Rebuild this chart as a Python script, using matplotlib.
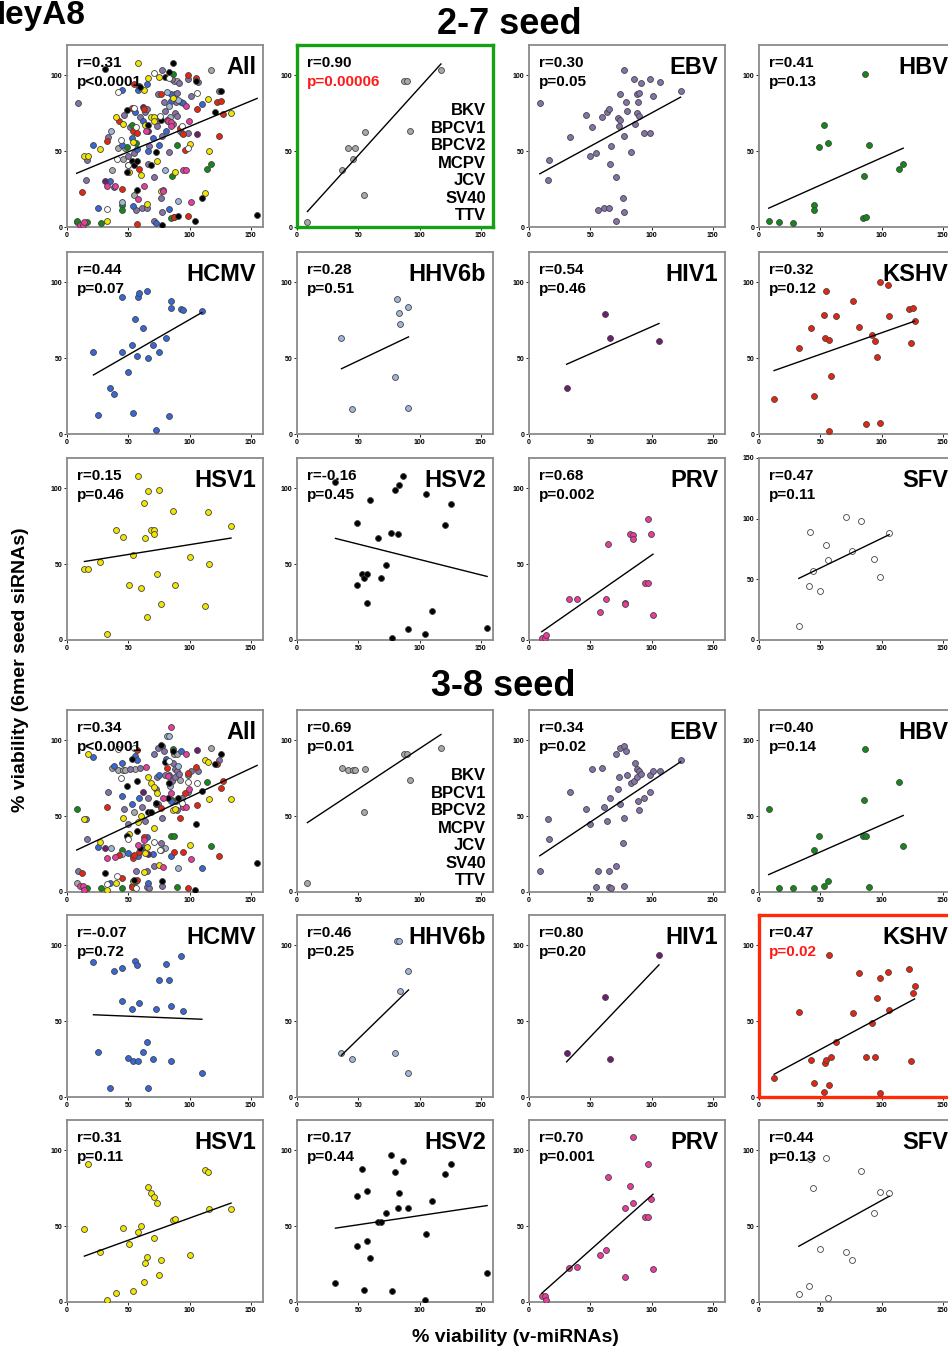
import numpy as np
import matplotlib.pyplot as plt

plt.rcParams['font.family'] = ['Liberation Sans', 'DejaVu Sans']
plt.rcParams['font.weight'] = 'bold'

# x = % viability with v-miRNAs (same for both seed panels), y = 6mer seed siRNAs
poly_x = [8.5, 36.5, 42, 46, 47, 55.5, 54.5, 87, 89.5, 92.5, 117.5]
poly_27 = [3.3, 37.8, 51.8, 45, 51.8, 62.5, 20.9, 96, 96, 63.6, 103.8]
poly_38 = [6.2, 81.6, 80.5, 80.3, 80.3, 81.4, 52.8, 91.2, 91.2, 73.9, 94.7]

ebv_x = [8.8, 16.4, 15.4, 33.7, 46.4, 51.3, 49.9, 55.1, 56.2, 59.5, 61.4, 63.9, 65, 65.3,
         67.2, 66.1, 70.8, 71, 72.7, 73.5, 74.3, 73.9, 77.3, 77.6, 76.8, 77.3, 79, 79.8,
         83.1, 86.4, 86.1, 88.3, 90.2, 89.1, 88, 89.9, 91.6, 93.8, 98.4, 98.4, 100.9, 106.7, 123.7]
ebv_27 = [82, 44.3, 31.1, 59.6, 74, 65.8, 46.9, 48.5, 11.3, 72.7, 12.7, 75.8, 77.6, 12.7,
          53.3, 41.6, 32.9, 4.2, 72, 66.4, 70.4, 87.8, 103.3, 59.9, 18.9, 10.2, 82.5, 76.7,
          49.3, 68, 97.6, 87.8, 88.5, 82.5, 75.1, 73.1, 95.1, 61.8, 61.8, 97.8, 86.3, 95.8, 89.6]
ebv_38 = [14, 35, 48, 66, 55, 81, 45, 3, 14, 82, 56, 47, 3, 14,
          2.5, 62, 17, 91, 68, 76, 58, 95, 96, 49, 32, 4, 93, 77,
          72, 85, 73, 81, 80, 60, 76, 54, 78, 62, 77, 66, 80, 80, 87]

hbv_x = [7.9, 16.6, 27.5, 45.3, 45.3, 48.9, 53, 56.5, 86.3, 85.8, 84.9, 87.1, 90.2, 114.4, 117.7]
hbv_27 = [3.7, 3.3, 2.6, 14.5, 11.2, 52.9, 67.2, 55.3, 100.7, 33.5, 5.9, 6.6, 54.2, 38.5, 41.8]
hbv_38 = [55, 2.7, 2.7, 2.7, 28, 37, 4, 7, 94.5, 60.5, 36.6, 36.6, 3, 72.5, 30.6]

hcmv_x = [21.6, 25.4, 35.2, 38, 44.8, 44.8, 49.4, 52.7, 54.1, 55.2, 57.1, 57.6, 58.7, 61.7,
          65.3, 65.8, 69.9, 72.4, 74.8, 80.8, 83.6, 84.9, 84.9, 93.4, 95.1, 110.1]
hcmv_27 = [54.1, 12.2, 30.4, 26.2, 90.4, 54.1, 41.2, 59, 14, 75.8, 51.5, 90.2, 93.1, 69.8,
           94.4, 49.9, 59, 2.5, 54.1, 63, 11.8, 87.6, 83.4, 82.1, 81.6, 81.2]
hcmv_38 = [89, 30, 6, 83, 63, 85, 26, 58, 24, 90, 87, 24, 62, 30,
           36, 6, 25, 58, 77, 88, 77, 60, 24, 93, 57, 16]

hhv6b_x = [36.3, 45.1, 80.1, 81.4, 83.3, 84.4, 91, 91]
hhv6b_27 = [63.4, 16.6, 37.9, 89.1, 79.6, 72.7, 83.8, 17.1]
hhv6b_38 = [29, 25, 29, 103, 103, 70, 83, 16]

hiv1_x = [30.7, 62.3, 65.8, 106.1]
hiv1_27 = [30.4, 79.4, 63.6, 61.2]
hiv1_38 = [28.7, 66, 25.3, 93.3]

kshv_x = [12.3, 33, 42.6, 44.5, 53, 53.8, 54.9, 57.1, 57.4, 59, 62.5, 76.7, 81.7, 87.4,
          92.6, 95, 96.4, 98.6, 98.9, 105.2, 106.3, 122.1, 125.9, 123.9, 127]
kshv_27 = [23.3, 57, 69.8, 24.9, 78.5, 63.2, 94.4, 61.8, 2.2, 38.4, 78, 87.6, 70.5, 6.4,
           65.4, 61.4, 50.8, 100.2, 7.1, 98, 77.8, 82.7, 83.1, 60.1, 74.3]
kshv_38 = [12.7, 55.8, 24.7, 9.3, 3.1, 22.5, 24.7, 93.8, 8, 26.7, 36.5, 55.6, 82, 26.2,
           48.5, 26.2, 65.3, 78.7, 2.7, 82.5, 57.6, 84.7, 68.7, 24, 73.1]

hsv1_x = [14.2, 17.5, 26.7, 32.5, 39.9, 45.9, 50.5, 53.8, 58.2, 60.6, 63.1, 63.6, 65.3, 66.4,
          68.3, 70.8, 71, 73.8, 74.8, 76.5, 86.6, 88.2, 100.5, 112.5, 115, 116.1, 133.9]
hsv1_27 = [46.9, 46.9, 51.6, 4, 72.7, 67.8, 36.5, 56, 108.3, 34.2, 90.2, 67.3, 15.3, 98.2,
           72.7, 72.7, 70.1, 43.8, 98.7, 24, 85.1, 36.5, 54.9, 22.7, 84.2, 50, 75.1]
hsv1_38 = [48, 91, 33, 1.3, 6.2, 49, 38, 7.3, 46, 50, 13.3, 26, 30, 76,
           72, 69, 42, 65, 18, 28, 54, 55, 31, 87, 86, 61, 61]

hsv2_x = [31.4, 48.6, 49, 53.3, 54.9, 57.1, 57.1, 59.6, 65.8, 68.9, 73, 77.1, 77.6, 79.8,
          83.1, 82.8, 86.9, 91, 104.6, 105.2, 109.8, 121, 125.4, 155.2]
hsv2_27 = [104, 36.3, 77.1, 43.8, 40.9, 43.8, 24.7, 92.5, 67.1, 41.1, 49.3, 70.5, 1.1, 98.7,
           102.2, 70.2, 108, 7.1, 4.2, 96.5, 19.3, 75.6, 90, 7.8]
hsv2_38 = [12.2, 37, 70, 88, 8.2, 40, 73, 28.7, 52.7, 52.7, 59, 97, 7.1, 86,
           72, 62, 93, 62, 1.6, 44.7, 66.7, 84.7, 91, 19.3]

prv_x = [10.4, 12.9, 13.5, 32.4, 39, 57.9, 62.5, 64.5, 78.2, 78.4, 82.3, 85, 84.5, 94.3,
         96.8, 97.3, 99.3, 101.2]
prv_27 = [1.1, 1.1, 3.3, 26.9, 26.9, 18.7, 27.3, 63.1, 24.5, 23.6, 69.8, 69, 66.5, 37.6,
          37.6, 79.6, 70, 16.5]
prv_38 = [4, 4, 1.3, 22.7, 23.3, 30.7, 34, 82.7, 16.7, 62, 76.7, 109, 65.3, 56,
          56, 90.7, 68, 22]

sfv_x = [32.5, 41, 41.3, 43.8, 49.7, 54.3, 56.5, 71.3, 75.7, 83.4, 93.7, 98.9, 106.3]
sfv_27 = [11.9, 44.7, 89, 57.2, 40.6, 78.7, 65.8, 101.4, 73.5, 98.1, 66.9, 51.9, 88.4]
sfv_38 = [5.3, 10.7, 94, 75, 35, 94.7, 2.7, 32.7, 28, 86.7, 58.7, 72.7, 72]

poly_names = ['BKV', 'BPCV1', 'BPCV2', 'MCPV', 'JCV', 'SV40', 'TTV']

# name, x, y 2-7, y 3-8, fill colour
viruses = [
    ('poly', poly_x, poly_27, poly_38, '#a8a8a8'),
    ('EBV', ebv_x, ebv_27, ebv_38, '#8572a8'),
    ('HBV', hbv_x, hbv_27, hbv_38, '#14891a'),
    ('HCMV', hcmv_x, hcmv_27, hcmv_38, '#3768d6'),
    ('HHV6b', hhv6b_x, hhv6b_27, hhv6b_38, '#9fb6da'),
    ('HIV1', hiv1_x, hiv1_27, hiv1_38, '#6b1f6e'),
    ('KSHV', kshv_x, kshv_27, kshv_38, '#e82510'),
    ('HSV1', hsv1_x, hsv1_27, hsv1_38, '#f2e600'),
    ('HSV2', hsv2_x, hsv2_27, hsv2_38, '#000000'),
    ('PRV', prv_x, prv_27, prv_38, '#ea3c9c'),
    ('SFV', sfv_x, sfv_27, sfv_38, '#ffffff'),
]

grid = [['All', 'poly', 'EBV', 'HBV'],
        ['HCMV', 'HHV6b', 'HIV1', 'KSHV'],
        ['HSV1', 'HSV2', 'PRV', 'SFV']]

stats_27 = {'All': ('0.31', '<0.0001'), 'poly': ('0.90', '=0.00006'), 'EBV': ('0.30', '=0.05'),
            'HBV': ('0.41', '=0.13'), 'HCMV': ('0.44', '=0.07'), 'HHV6b': ('0.28', '=0.51'),
            'HIV1': ('0.54', '=0.46'), 'KSHV': ('0.32', '=0.12'), 'HSV1': ('0.15', '=0.46'),
            'HSV2': ('-0.16', '=0.45'), 'PRV': ('0.68', '=0.002'), 'SFV': ('0.47', '=0.11')}
stats_38 = {'All': ('0.34', '<0.0001'), 'poly': ('0.69', '=0.01'), 'EBV': ('0.34', '=0.02'),
            'HBV': ('0.40', '=0.14'), 'HCMV': ('-0.07', '=0.72'), 'HHV6b': ('0.46', '=0.25'),
            'HIV1': ('0.80', '=0.20'), 'KSHV': ('0.47', '=0.02'), 'HSV1': ('0.31', '=0.11'),
            'HSV2': ('0.17', '=0.44'), 'PRV': ('0.70', '=0.001'), 'SFV': ('0.44', '=0.13')}

W, H = 948, 1348
fig = plt.figure(figsize=(W / 100, H / 100), dpi=100)

col_left = [67, 297, 529, 759]
row_top = [45, 252, 458, 710, 915, 1120]
aw, ah = 196, 182

lookup = {v[0]: v for v in viruses}


def draw_panel(ax, name, seed, stats, boxed=None, red_p=False):
    if name == 'All':
        for v in viruses:
            ys = v[2] if seed == 0 else v[3]
            ax.scatter(v[1], ys, s=18, c=v[4], edgecolors='#444444', linewidths=0.6, zorder=3)
        xs = np.concatenate([v[1] for v in viruses])
        ys = np.concatenate([v[2] if seed == 0 else v[3] for v in viruses])
    else:
        v = lookup[name]
        xs = np.array(v[1], dtype=float)
        ys = np.array(v[2] if seed == 0 else v[3], dtype=float)
        ax.scatter(xs, ys, s=18, c=v[4], edgecolors='#444444', linewidths=0.6, zorder=3)
    k, b = np.polyfit(xs, ys, 1)
    xl = np.array([xs.min(), xs.max()])
    ax.plot(xl, k * xl + b, color='black', lw=1.0, zorder=4)

    ymax = 150 if (name == 'SFV' and seed == 0) else 120
    ax.set_xlim(0, 160)
    ax.set_ylim(0, ymax)
    ax.set_xticks([0, 50, 100, 150])
    ax.set_yticks([0, 50, 100, 150] if ymax == 150 else [0, 50, 100])
    ax.tick_params(labelsize=5, length=2, width=0.6, pad=1.5, colors='black')
    for lab in ax.get_xticklabels() + ax.get_yticklabels():
        lab.set_fontweight('bold')
    for sp in ax.spines.values():
        sp.set_color('#8a8a8a')
        sp.set_linewidth(1.3)
    if boxed:
        for sp in ax.spines.values():
            sp.set_color(boxed)
            sp.set_linewidth(2.4)

    r, p = stats[name]
    ax.text(0.05, 0.94, 'r=' + r, transform=ax.transAxes, fontsize=11, fontweight='bold',
            va='top', ha='left', zorder=5)
    ax.text(0.05, 0.835, 'p' + p, transform=ax.transAxes, fontsize=11, fontweight='bold',
            va='top', ha='left', color='#ff1a1a' if red_p else 'black', zorder=5)
    if name == 'poly':
        for i, nm in enumerate(poly_names):
            ax.text(0.965, 0.68 - i * 0.096, nm, transform=ax.transAxes, fontsize=12,
                    fontweight='bold', ha='right', va='top', zorder=5)
    else:
        ax.text(0.965, 0.94, name, transform=ax.transAxes, fontsize=17, fontweight='bold',
                ha='right', va='top', zorder=5)


for seed in range(2):
    stats = stats_27 if seed == 0 else stats_38
    for ri, row in enumerate(grid):
        for ci, name in enumerate(row):
            top = row_top[ri + 3 * seed]
            left = col_left[ci]
            ax = fig.add_axes([left / W, 1 - (top + ah) / H, aw / W, ah / H])
            boxed = None
            red_p = False
            if seed == 0 and name == 'poly':
                boxed, red_p = '#15a015', True
            if seed == 1 and name == 'KSHV':
                boxed, red_p = '#ff2a0a', True
            draw_panel(ax, name, seed, stats, boxed, red_p)

fig.text(-0.019, 1 - 24 / H, 'HeyA8', fontsize=24, fontweight='bold', ha='left', va='baseline')
fig.text(509 / W, 1 - 24 / H, '2-7 seed', fontsize=26, fontweight='bold', ha='center', va='center')
fig.text(503 / W, 1 - 687 / H, '3-8 seed', fontsize=26, fontweight='bold', ha='center', va='center')
fig.text(21 / W, 1 - 670 / H, '% viability (6mer seed siRNAs)', fontsize=14, fontweight='bold',
         rotation=90, ha='center', va='center')
fig.text(515 / W, 1 - 1337 / H, '% viability (v-miRNAs)', fontsize=14, fontweight='bold',
         ha='center', va='center')

fig.savefig('out.png', dpi=100)
